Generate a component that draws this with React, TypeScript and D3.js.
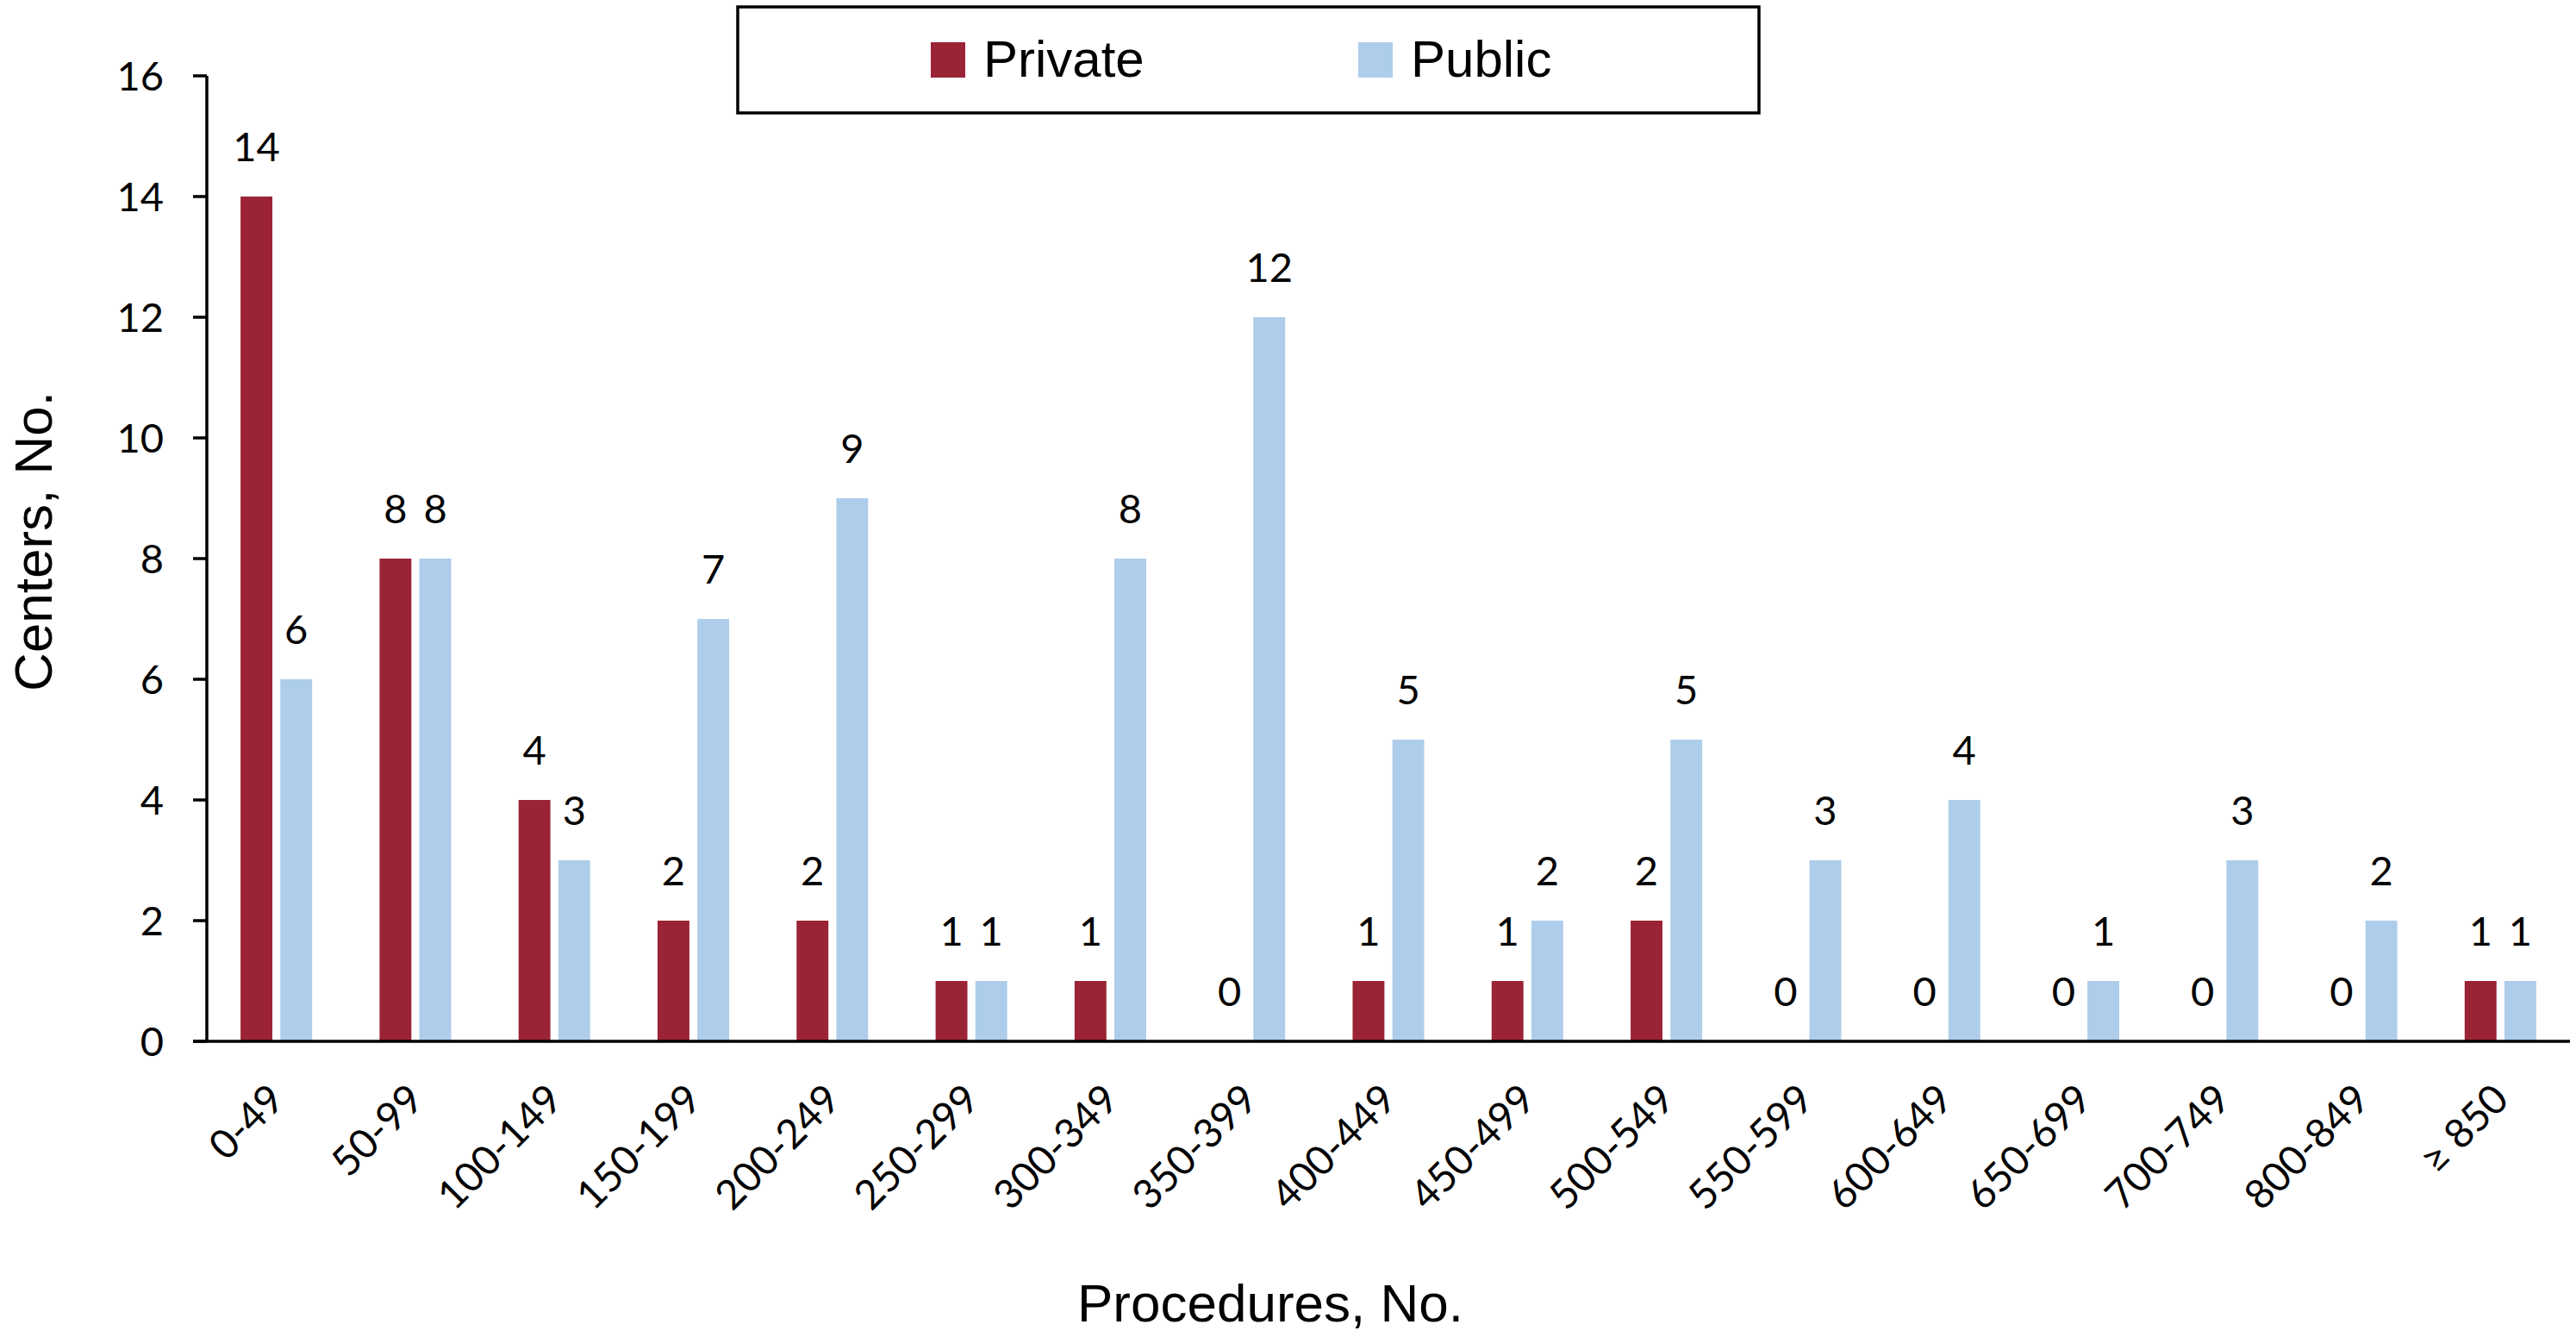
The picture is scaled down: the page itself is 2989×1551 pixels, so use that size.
import React from 'react';
import * as d3 from 'd3';

const categories = [
  '0-49', '50-99', '100-149', '150-199', '200-249', '250-299', '300-349', '350-399',
  '400-449', '450-499', '500-549', '550-599', '600-649', '650-699', '700-749', '800-849', '≥ 850',
];
const privateCounts = [14, 8, 4, 2, 2, 1, 1, 0, 1, 1, 2, 0, 0, 0, 0, 0, 1];
const publicCounts = [6, 8, 3, 7, 9, 1, 8, 12, 5, 2, 5, 3, 4, 1, 3, 2, 1];
const seriesNames = ['Private', 'Public'];
const yTicks = [0, 2, 4, 6, 8, 10, 12, 14, 16];

const colors: Record<string, string> = { Private: '#9B2336', Public: '#AECDEB' };

const W = 2989;
const H = 1551;
const margin = { top: 88, right: 7, bottom: 343, left: 240 };

const numFont = 'Lato, Carlito, "Noto Sans", sans-serif';
const titleFont = '"Liberation Sans", Arial, sans-serif';

export default function App() {
  const x0 = d3.scaleBand<string>()
    .domain(categories)
    .range([margin.left, W - margin.right])
    .paddingInner(0.485)
    .paddingOuter(0.2425);

  const x1 = d3.scaleBand<string>()
    .domain(seriesNames)
    .range([0, x0.bandwidth()])
    .paddingInner(0.2);

  const y = d3.scaleLinear().domain([0, 16]).range([H - margin.bottom, margin.top]);

  const rows = categories.map((c, i) => ({
    cat: c,
    values: [
      { key: 'Private', v: privateCounts[i] },
      { key: 'Public', v: publicCounts[i] },
    ],
  }));

  const axisY = y(0);

  return (
    <div style={{ position: 'fixed', left: 0, top: 0, background: '#fff' }}>
      <svg width={W} height={H} style={{ display: 'block' }}>
        <rect width={W} height={H} fill="#fff" />

        {/* bars + value labels */}
        {rows.map(r => (
          <g key={r.cat} transform={`translate(${x0(r.cat)},0)`}>
            {r.values.map(d => (
              <g key={d.key}>
                {d.v > 0 && (
                  <rect
                    x={x1(d.key)}
                    y={y(d.v)}
                    width={x1.bandwidth()}
                    height={axisY - y(d.v)}
                    fill={colors[d.key]}
                  />
                )}
                <text
                  x={(x1(d.key) ?? 0) + x1.bandwidth() / 2}
                  y={y(d.v) - 41}
                  textAnchor="middle"
                  fontFamily={numFont}
                  fontSize={47}
                  fill="#000"
                >
                  {d.v}
                </text>
              </g>
            ))}
          </g>
        ))}

        {/* y axis */}
        <line x1={margin.left} x2={margin.left} y1={y(16)} y2={axisY} stroke="#000" strokeWidth={3.5} />
        {yTicks.map(t => (
          <g key={t}>
            <line x1={margin.left - 16} x2={margin.left} y1={y(t)} y2={y(t)} stroke="#000" strokeWidth={3.5} />
            <text
              x={margin.left - 50}
              y={y(t)}
              dy="0.36em"
              textAnchor="end"
              fontFamily={numFont}
              fontSize={47}
            >
              {t}
            </text>
          </g>
        ))}

        {/* x axis */}
        <line x1={margin.left - 16} x2={W - margin.right} y1={axisY} y2={axisY} stroke="#000" strokeWidth={3.5} />
        {categories.map(c => {
          const cx = (x0(c) ?? 0) + x0.bandwidth() / 2;
          return (
            <text
              key={c}
              transform={`translate(${cx + 12},${axisY + 70}) rotate(-45)`}
              textAnchor="end"
              fontFamily={numFont}
              fontSize={47}
            >
              {c}
            </text>
          );
        })}

        {/* axis titles */}
        <text x={1474} y={1533} textAnchor="middle" fontFamily={titleFont} fontSize={62}>
          Procedures, No.
        </text>
        <text
          transform={`translate(60,628) rotate(-90)`}
          textAnchor="middle"
          fontFamily={titleFont}
          fontSize={62}
        >
          Centers, No.
        </text>

        {/* legend */}
        <rect x={856} y={8} width={1185} height={123} fill="#fff" stroke="#000" strokeWidth={3.5} />
        {seriesNames.map((s, i) => {
          const lx = i === 0 ? 1080 : 1576;
          return (
            <g key={s}>
              <rect x={lx} y={49} width={40} height={41} fill={colors[s]} />
              <text x={lx + 61} y={89} fontFamily={titleFont} fontSize={60}>
                {s}
              </text>
            </g>
          );
        })}
      </svg>
    </div>
  );
}
